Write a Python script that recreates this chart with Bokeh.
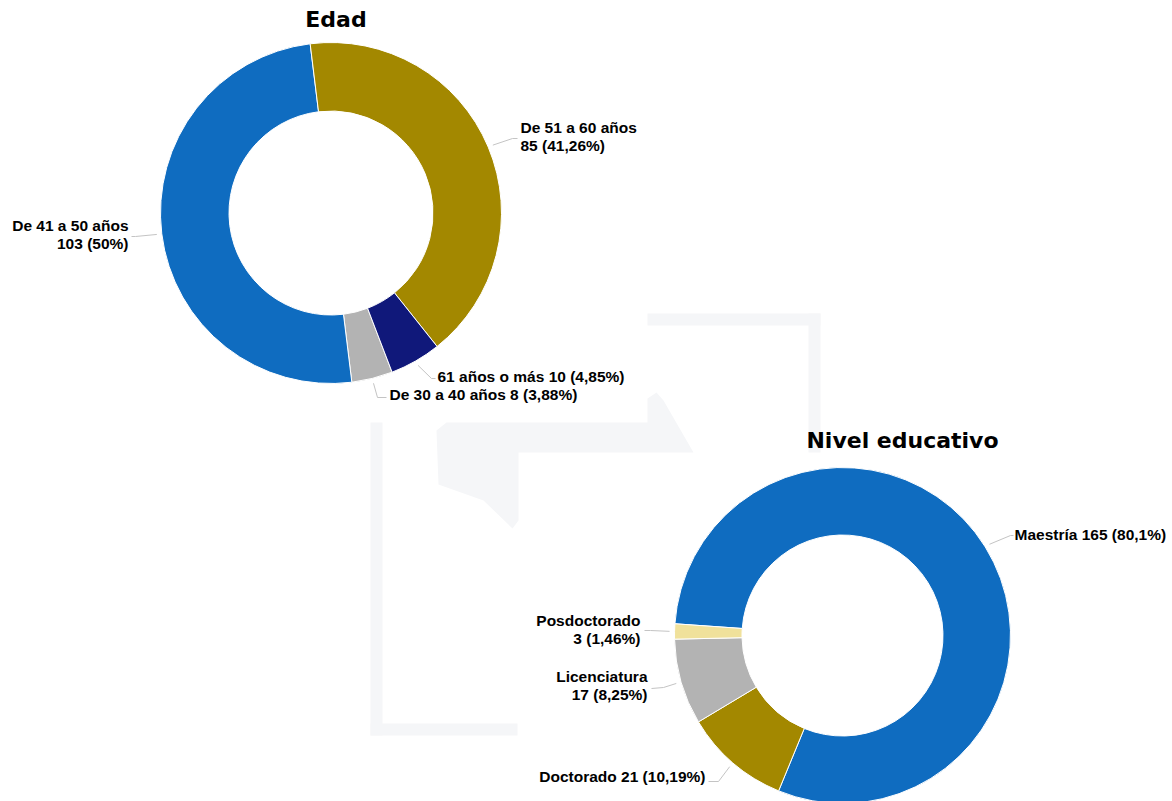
import math
from bokeh.plotting import figure
from bokeh.models import Range1d, ColumnDataSource
from bokeh.core.properties import value
from bokeh.embed import file_html
from bokeh.resources import INLINE

# ---------------- data ----------------
edad_title = "Edad"
edad_categories = ["De 30 a 40 años", "De 41 a 50 años", "De 51 a 60 años", "61 años o más"]
edad_values = [8, 103, 85, 10]

nivel_title = "Nivel educativo"
nivel_categories = ["Maestría", "Doctorado", "Licenciatura", "Posdoctorado"]
nivel_values = [165, 21, 17, 3]

# ---------------- style / layout ----------------
W, H = 1172, 801
edad_colors = ["#b3b3b3", "#0f6cc0", "#a38800", "#10187a"]
nivel_colors = ["#0f6cc0", "#a38800", "#b3b3b3", "#f0e19b"]

def fx(x):  # image px -> figure data x
    return x

def fy(y):  # image px -> figure data y
    return H - y

# donut geometry (image px): center, outer radius, inner radius, start angle (deg clockwise from top)
edad_geom = dict(cx=330.5, cy=212.5, R=170.5, r=102.0, start=159.0)
nivel_geom = dict(cx=842.0, cy=635.0, R=168.0, r=100.5, start=274.0)

# label layouts: (align, anchor x, first baseline y, two_lines, elbow, end)
edad_layout = [
    ("left", 389, 401, False, (377, 397), (386, 397)),
    ("right", 128, 232, True, (135, 236), (131, 236)),
    ("left", 520, 134, True, (512, 138), (517, 138)),
    ("left", 437, 383, False, (431, 378), (435, 378)),
]
nivel_layout = [
    ("left", 1014, 541, False, (1010, 535), (1013, 535)),
    ("right", 705, 783, False, (718, 781), (708, 781)),
    ("right", 647, 683, True, (663, 687), (651, 688)),
    ("right", 640, 627, True, (650, 630), (644, 630)),
]

LABEL_FONT = "Liberation Sans"
TITLE_FONT = "DejaVu Sans"
LINE_H = 18
LABEL_SHIFT = 7   # renderer baseline correction (px)
TITLE_SHIFT = 8

p = figure(width=W, height=H, x_range=Range1d(0, W), y_range=Range1d(0, H),
           x_axis_type=None, y_axis_type=None, toolbar_location=None,
           output_backend="svg", min_border=0)
p.outline_line_color = None
p.grid.visible = False
p.background_fill_color = "white"
p.border_fill_color = "white"

# ---------------- faint watermark (decoration) ----------------
wm_color = "#f5f6f8"
wm_quads = [(370, 382, 422, 735), (370, 517, 723, 735), (647, 820, 313, 325), (808, 820, 313, 452)]
p.quad(left=[fx(a) for a, b, c, d in wm_quads], right=[fx(b) for a, b, c, d in wm_quads],
       top=[fy(c) for a, b, c, d in wm_quads], bottom=[fy(d) for a, b, c, d in wm_quads],
       fill_color=wm_color, line_color=None)
wm_poly = [(436, 430), (446, 422), (647, 422), (647, 398), (656, 392), (663, 400), (693, 452),
           (518, 452), (518, 520), (512, 528), (483, 500), (438, 484)]
p.patch([fx(a) for a, b in wm_poly], [fy(b) for a, b in wm_poly], fill_color=wm_color, line_color=None)


def fmt_pct(v, total):
    s = f"{v / total * 100:.2f}".rstrip("0").rstrip(".")
    return s.replace(".", ",")


def draw_donut(cats, vals, colors, g, layout, title, title_xy, title_size):
    total = sum(vals)
    theta = g["start"]
    starts, ends, mids = [], [], []
    for v in vals:
        sweep = v / total * 360.0
        starts.append(theta)
        ends.append(theta + sweep)
        mids.append(theta + sweep / 2)
        theta += sweep
    src = ColumnDataSource(dict(
        start=[math.radians(90 - a) for a in starts],
        end=[math.radians(90 - b) for b in ends],
        color=colors,
    ))
    p.annular_wedge(x=fx(g["cx"]), y=fy(g["cy"]), inner_radius=g["r"], outer_radius=g["R"],
                    start_angle="start", end_angle="end", direction="clock",
                    fill_color="color", line_color="white", line_width=1, source=src)

    # connectors & labels
    xs_l, ys_l = [], []
    lx, ly, lt, la = [], [], [], []
    for cat, v, m, lay in zip(cats, vals, mids, layout):
        align, ax, ay, two, elbow, end = lay
        rr = g["R"] + 5
        sx = g["cx"] + rr * math.sin(math.radians(m))
        sy = g["cy"] - rr * math.cos(math.radians(m))
        xs_l.append([fx(sx), fx(elbow[0]), fx(end[0])])
        ys_l.append([fy(sy), fy(elbow[1]), fy(end[1])])
        second = f"{v} ({fmt_pct(v, total)}%)"
        if two:
            lines = [cat, second]
        else:
            lines = [f"{cat} {second}"]
        for i, t in enumerate(lines):
            lx.append(fx(ax))
            ly.append(fy(ay + i * LINE_H - LABEL_SHIFT))
            lt.append(t)
            la.append(align)
    p.multi_line(xs_l, ys_l, line_color="#c4c4c4", line_width=1)
    tsrc = ColumnDataSource(dict(x=lx, y=ly, text=lt, align=la))
    p.text(x="x", y="y", text="text", text_align="align", text_baseline="alphabetic",
           text_font=value(LABEL_FONT), text_font_style="bold", text_font_size="15.5px",
           text_color="#000000", source=tsrc)
    p.text(x=[fx(title_xy[0])], y=[fy(title_xy[1] - TITLE_SHIFT)], text=[title], text_align="center",
           text_baseline="alphabetic", text_font=value(TITLE_FONT), text_font_style="bold",
           text_font_size=title_size, text_color="#000000")


draw_donut(edad_categories, edad_values, edad_colors, edad_geom, edad_layout,
           edad_title, (335.5, 27), "22px")
draw_donut(nivel_categories, nivel_values, nivel_colors, nivel_geom, nivel_layout,
           nivel_title, (902, 448), "22px")

open("out.html", "w").write(file_html(p, INLINE))
